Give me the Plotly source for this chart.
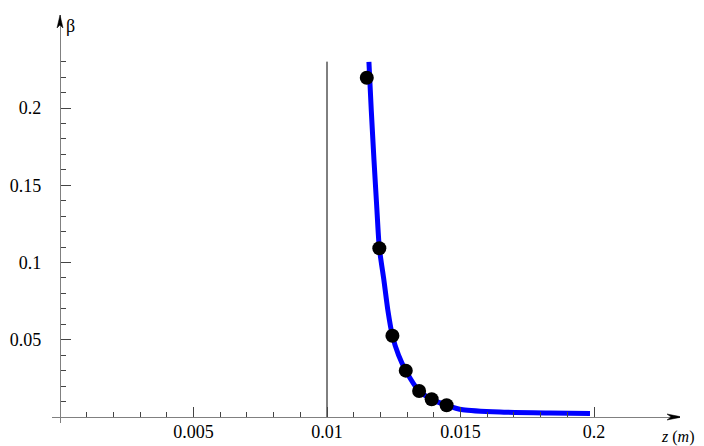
import plotly.graph_objects as go

# ---- data ----
curve_z = [0.01157, 0.01166, 0.01176, 0.01186, 0.01196, 0.01213, 0.01228, 0.01245,
           0.01268, 0.01295, 0.01345, 0.01392, 0.01448, 0.01509, 0.01648, 0.01835, 0.01985]
curve_beta = [0.2298, 0.198, 0.1663, 0.137, 0.1094, 0.0887, 0.069, 0.0526,
              0.040, 0.030, 0.0168, 0.0115, 0.0076, 0.0047, 0.0032, 0.0026, 0.0023]

points_z = [0.01149, 0.01196, 0.01245, 0.01295, 0.01345, 0.01392, 0.01448]
points_beta = [0.2196, 0.1092, 0.0526, 0.0300, 0.0168, 0.0115, 0.0076]

asym_z = [0.01, 0.01]
asym_beta = [0.0, 0.23]

x_tickvals = [0.005, 0.01, 0.015, 0.02]
x_ticktext = ["0.005", "0.01", "0.015", "0.2"]
x_minor = [0.001, 0.002, 0.003, 0.004, 0.006, 0.007, 0.008, 0.009,
           0.011, 0.012, 0.013, 0.014, 0.016, 0.017, 0.018, 0.019]
y_tickvals = [0.05, 0.1, 0.15, 0.2]
y_ticktext = ["0.05", "0.1", "0.15", "0.2"]
y_minor = [0.01, 0.02, 0.03, 0.04, 0.06, 0.07, 0.08, 0.09, 0.11, 0.12, 0.13, 0.14,
           0.16, 0.17, 0.18, 0.19, 0.21, 0.22, 0.23]

# ---- layout geometry (page body has an 8px default margin on left/top) ----
BODY = 8
W, H = 704 - BODY, 446 - BODY
ML, MR, MT, MB = 52 - BODY, 24, 15 - BODY, 23
pw, ph = W - ML - MR, H - MT - MB
px_per_x = 26700.0
px_per_y = 1545.0
x0 = -8 / px_per_x
x1 = x0 + pw / px_per_x
y0 = -6 / px_per_y
y1 = y0 + ph / px_per_y

AX = "#808080"
TK = "#444444"
FONT = "Liberation Serif"
FS = 18

fig = go.Figure()
fig.add_trace(go.Scatter(x=asym_z, y=asym_beta, mode="lines",
                         line=dict(color="black", width=1), hoverinfo="skip"))
fig.add_trace(go.Scatter(x=curve_z, y=curve_beta, mode="lines",
                         line=dict(color="#0000ff", width=5, shape="spline", smoothing=0.6)))
fig.add_trace(go.Scatter(x=points_z, y=points_beta, mode="markers",
                         marker=dict(color="black", size=14)))

fig.update_layout(
    width=W, height=H, showlegend=False,
    plot_bgcolor="white", paper_bgcolor="white",
    margin=dict(l=ML, r=MR, t=MT, b=MB, pad=0, autoexpand=False),
    font=dict(family=FONT, size=FS, color="black"),
    xaxis=dict(range=[x0, x1], anchor="free", position=6 / ph, automargin=False,
               showgrid=False, zeroline=False, showline=True, linecolor=AX, linewidth=1.3,
               tickmode="array", tickvals=x_tickvals, ticktext=x_ticktext,
               ticks="inside", ticklen=10, tickwidth=1, tickcolor=TK,
               ticklabelstandoff=-2, tickfont=dict(family=FONT, size=FS, color="black"),
               minor=dict(tickmode="array", tickvals=x_minor, ticks="inside",
                          ticklen=5, tickwidth=1, tickcolor=TK, showgrid=False)),
    yaxis=dict(range=[y0, y1], anchor="free", position=8 / pw, automargin=False,
               showgrid=False, zeroline=False, showline=True, linecolor=AX, linewidth=1.3,
               tickmode="array", tickvals=y_tickvals, ticktext=y_ticktext,
               ticks="inside", ticklen=10, tickwidth=1, tickcolor=TK,
               ticklabelstandoff=15, tickfont=dict(family=FONT, size=FS, color="black"),
               minor=dict(tickmode="array", tickvals=y_minor, ticks="inside",
                          ticklen=5, tickwidth=1, tickcolor=TK, showgrid=False)),
)

# narrow Mathematica-style axis arrowheads (pixel-sized paths anchored at the axis ends)
fig.add_shape(type="path", xref="x", yref="y", xsizemode="pixel", ysizemode="pixel",
              xanchor=x1 + 2 / px_per_x, yanchor=0,
              path="M0,0 L-15,3 L-11,0 L-15,-3 Z",
              fillcolor="black", line=dict(color="black", width=0.5))
fig.add_shape(type="path", xref="x", yref="y", xsizemode="pixel", ysizemode="pixel",
              xanchor=0, yanchor=y1,
              path="M0,0 L-3,-13 L0,-10 L3,-13 Z",
              fillcolor="black", line=dict(color="black", width=0.5))

# axis labels
fig.add_annotation(x=0, y=y1, xref="x", yref="y", text="β", showarrow=False,
                   xanchor="left", yanchor="top", xshift=4, yshift=1,
                   font=dict(family=FONT, size=FS, color="black"))
fig.add_annotation(x=1 + (MR - 8) / pw, y=0, xref="paper", yref="paper",
                   text="<i>z</i> (<i>m</i>)",
                   showarrow=False, xanchor="right", yanchor="top",
                   yshift=-3, font=dict(family=FONT, size=16, color="black"))

fig.write_html("out.html")
